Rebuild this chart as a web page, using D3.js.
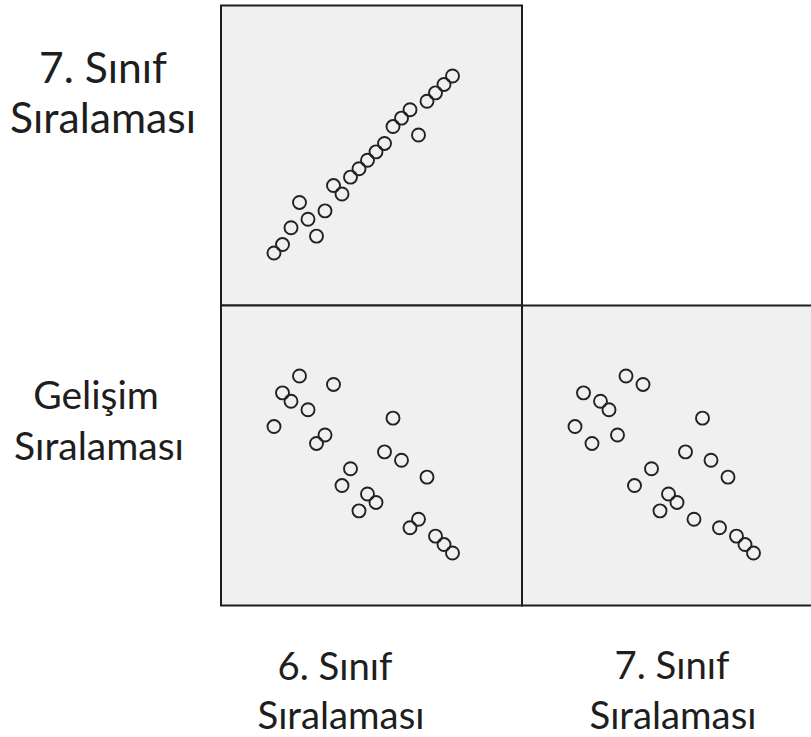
<!DOCTYPE html>
<html>
<head>
<meta charset="utf-8">
<script src="https://cdn.jsdelivr.net/npm/d3@7"></script>
<style>
  body { margin: 0; background: #fff; }
  svg { display: block; }
  text { font-family: Lato, "Open Sans", sans-serif; fill: #1e1e1e; }
</style>
</head>
<body>
<svg width="811" height="737"></svg>
<script>
// ranks for 22 students
var sinif6  = [1, 2, 3, 4, 5, 6, 7, 8, 9, 10, 11, 12, 13, 14, 15, 16, 17, 18, 19, 20, 21, 22];
var sinif7  = [1, 2, 4, 7, 5, 3, 6, 9, 8, 10, 11, 12, 13, 14, 16, 17, 18, 15, 19, 20, 21, 22];
var gelisim = [16, 20, 19, 22, 18, 14, 15, 21, 9, 11, 6, 8, 7, 13, 17, 12, 4, 5, 10, 3, 2, 1];

var svg = d3.select("svg");

var cell = 301, ox = 221, oy = 5.5;

// same scale for every rank variable
var x = d3.scaleLinear().domain([1, 22]).range([53, 231.5]);
var y = d3.scaleLinear().domain([1, 22]).range([247.5, 70.5]);

var panels = [
  {col: 0, row: 0, xs: sinif6, ys: sinif7},
  {col: 0, row: 1, xs: sinif6, ys: gelisim},
  {col: 1, row: 1, xs: sinif7, ys: gelisim}
];

panels.forEach(function(p) {
  var g = svg.append("g")
    .attr("transform", "translate(" + (ox + p.col * cell) + "," + (oy + p.row * 300) + ")");

  g.append("rect")
    .attr("width", cell).attr("height", 300)
    .attr("fill", "#f0f0f0")
    .attr("stroke", "#1e1e1e")
    .attr("stroke-width", 2);

  var pts = p.xs.map(function(v, i) { return [v, p.ys[i]]; });

  g.selectAll("circle")
    .data(pts)
    .enter().append("circle")
      .attr("cx", function(d) { return x(d[0]); })
      .attr("cy", function(d) { return y(d[1]); })
      .attr("r", 6.5)
      .attr("fill", "none")
      .attr("stroke", "#222")
      .attr("stroke-width", 1.9);
});

// labels, font size fitted to the width of "Sıralaması"
function label(lines, cx, baselines, width) {
  var t = svg.append("text").attr("font-size", 100).text("Sıralaması");
  var w = t.node().getComputedTextLength();
  t.remove();
  var fs = 100 * width / w;
  lines.forEach(function(s, i) {
    svg.append("text")
      .attr("x", cx[i]).attr("y", baselines[i])
      .attr("text-anchor", "middle")
      .attr("font-size", fs)
      .text(s);
  });
}

label(["7. Sınıf", "Sıralaması"], [103, 103], [83, 133], 186);
label(["Gelişim", "Sıralaması"], [96, 99], [409, 460], 170);
label(["6. Sınıf", "Sıralaması"], [335, 341], [680, 729], 167);
label(["7. Sınıf", "Sıralaması"], [672, 673], [679, 729], 167);
</script>
</body>
</html>
